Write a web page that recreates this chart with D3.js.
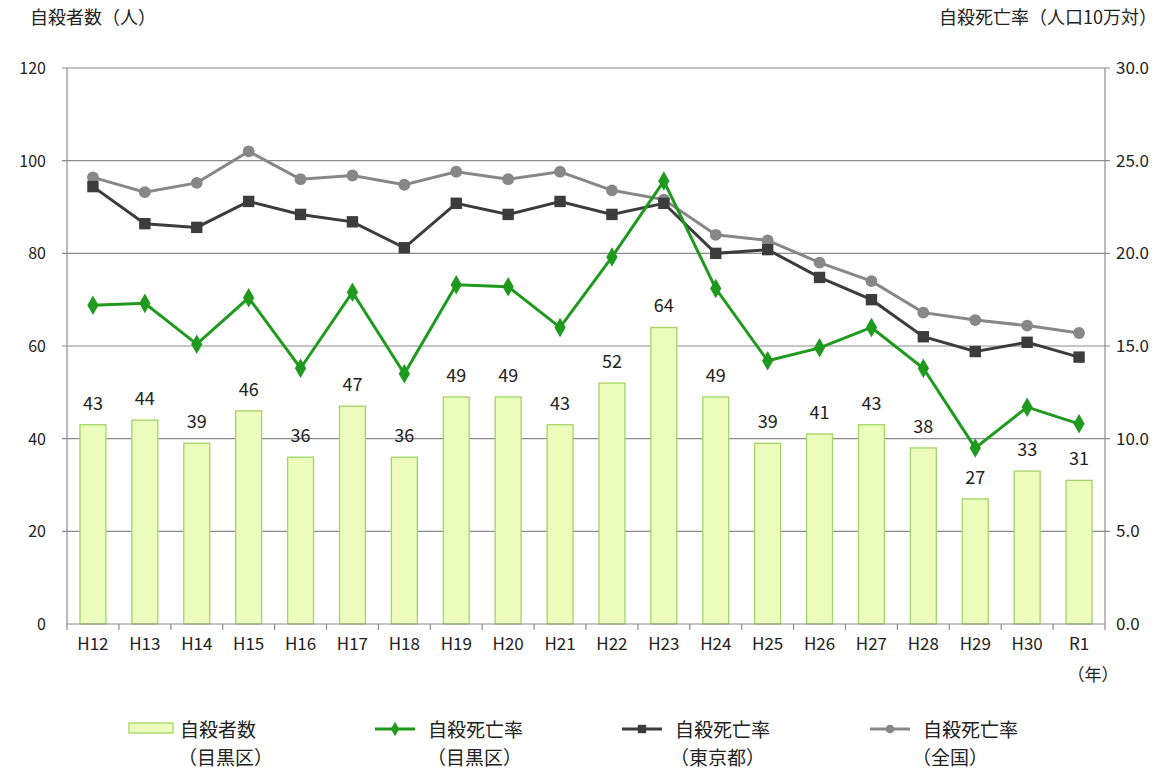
<!DOCTYPE html>
<html>
<head>
<meta charset="utf-8">
<script src="https://cdn.jsdelivr.net/npm/d3@7"></script>
<style>
  body { margin: 0; background: #fff; }
  svg text { font-family: "Noto Sans CJK JP", "Noto Sans", sans-serif; fill: #222; }
</style>
</head>
<body>
<svg id="chart" width="1165" height="772"></svg>
<script>
// Data
const years = ["H12","H13","H14","H15","H16","H17","H18","H19","H20","H21",
               "H22","H23","H24","H25","H26","H27","H28","H29","H30","R1"];
const meguroCount = [43,44,39,46,36,47,36,49,49,43,52,64,49,39,41,43,38,27,33,31];
const meguroRate  = [17.2,17.3,15.1,17.6,13.8,17.9,13.5,18.3,18.2,16.0,
                     19.8,23.9,18.1,14.2,14.9,16.0,13.8,9.5,11.7,10.8];
const tokyoRate   = [23.6,21.6,21.4,22.8,22.1,21.7,20.3,22.7,22.1,22.8,
                     22.1,22.7,20.0,20.2,18.7,17.5,15.5,14.7,15.2,14.4];
const japanRate   = [24.1,23.3,23.8,25.5,24.0,24.2,23.7,24.4,24.0,24.4,
                     23.4,22.9,21.0,20.7,19.5,18.5,16.8,16.4,16.1,15.7];
const leftTicks  = [0,20,40,60,80,100,120];
const rightTicks = [0,5,10,15,20,25,30];

const svg = d3.select("#chart");
const plotLeft = 67, plotRight = 1105, plotTop = 68, plotBottom = 624;

const x = d3.scaleBand().domain(years).range([plotLeft, plotRight]).paddingInner(0.5).paddingOuter(0.25);
const xc = d => x(d) + x.bandwidth() / 2;
const yL = d3.scaleLinear().domain([0, 120]).range([plotBottom, plotTop]);
const yR = d3.scaleLinear().domain([0, 30]).range([plotBottom, plotTop]);

// gridlines + ticks
svg.append("g").selectAll("line").data(leftTicks.slice(1)).join("line")
  .attr("x1", plotLeft - 5).attr("x2", plotRight + 5)
  .attr("y1", d => yL(d)).attr("y2", d => yL(d))
  .attr("stroke", "#8c8c8c").attr("stroke-width", 1.2);

// axis lines
svg.append("line").attr("x1", plotLeft).attr("x2", plotLeft).attr("y1", plotTop).attr("y2", plotBottom)
  .attr("stroke", "#8c8c8c").attr("stroke-width", 1.2);
svg.append("line").attr("x1", plotRight).attr("x2", plotRight).attr("y1", plotTop).attr("y2", plotBottom)
  .attr("stroke", "#8c8c8c").attr("stroke-width", 1.2);

// left tick labels
svg.append("g").selectAll("text").data(leftTicks).join("text")
  .attr("x", 46).attr("y", d => yL(d) + 6)
  .attr("text-anchor", "end").attr("font-size", 16)
  .text(d => d);

// right tick labels
svg.append("g").selectAll("text").data(rightTicks).join("text")
  .attr("x", 1116).attr("y", d => yR(d) + 6)
  .attr("font-size", 17)
  .text(d => d.toFixed(1));

// bars
svg.append("g").selectAll("rect").data(meguroCount).join("rect")
  .attr("x", (d, i) => x(years[i]))
  .attr("y", d => yL(d))
  .attr("width", x.bandwidth())
  .attr("height", d => plotBottom - yL(d))
  .attr("fill", "#ebfcbd").attr("stroke", "#a3d465").attr("stroke-width", 1.3);

// bar value labels
svg.append("g").selectAll("text").data(meguroCount).join("text")
  .attr("x", (d, i) => xc(years[i]))
  .attr("y", d => yL(d) - 15)
  .attr("text-anchor", "middle").attr("font-size", 18)
  .text(d => d);

// x axis line and ticks
svg.append("line").attr("x1", plotLeft).attr("x2", plotRight).attr("y1", plotBottom).attr("y2", plotBottom)
  .attr("stroke", "#8c8c8c").attr("stroke-width", 1.2);
const step = x.step();
svg.append("g").selectAll("line").data(d3.range(years.length + 1)).join("line")
  .attr("x1", i => plotLeft + i * step).attr("x2", i => plotLeft + i * step)
  .attr("y1", plotBottom).attr("y2", plotBottom + 6)
  .attr("stroke", "#8c8c8c").attr("stroke-width", 1.2);

svg.append("g").selectAll("text").data(years).join("text")
  .attr("x", d => xc(d)).attr("y", 650)
  .attr("text-anchor", "middle").attr("font-size", 17)
  .text(d => d);
svg.append("text").attr("x", 1093).attr("y", 681).attr("text-anchor", "middle")
  .attr("font-size", 17).text("（年）");

// lines
const line = vals => d3.line().x((d, i) => xc(years[i])).y(d => yR(d))(vals);

function drawSeries(vals, color, shape, size) {
  svg.append("path").attr("d", line(vals))
    .attr("fill", "none").attr("stroke", color).attr("stroke-width", 3);
  svg.append("g").selectAll("path").data(vals).join("path")
    .attr("transform", (d, i) => `translate(${xc(years[i])},${yR(d)})`)
    .attr("d", d3.symbol().type(shape).size(size))
    .attr("fill", color);
}
drawSeries(japanRate, "#878787", d3.symbolCircle, 110);
drawSeries(tokyoRate, "#3c3c3c", d3.symbolSquare, 130);
drawSeries(meguroRate, "#1f9a1f", d3.symbolDiamond, 110);

// axis titles
svg.append("text").attr("x", 30).attr("y", 24).attr("font-size", 18).text("自殺者数（人）");
svg.append("text").attr("x", 1157).attr("y", 24).attr("text-anchor", "end")
  .attr("font-size", 18).text("自殺死亡率（人口10万対）");

// legend
const legend = svg.append("g").attr("font-size", 19);
legend.append("rect").attr("x", 129).attr("y", 723).attr("width", 44).attr("height", 10)
  .attr("fill", "#ebfcbd").attr("stroke", "#a3d465").attr("stroke-width", 1.3);
legend.append("text").attr("x", 180).attr("y", 737).text("自殺者数");
legend.append("text").attr("x", 178).attr("y", 765).text("（目黒区）");

const legendLines = [
  {x: 375, color: "#1f9a1f", shape: d3.symbolDiamond, size: 60, sub: "（目黒区）", dx: 52},
  {x: 622, color: "#3c3c3c", shape: d3.symbolSquare, size: 70, sub: "（東京都）", dx: 48},
  {x: 870, color: "#878787", shape: d3.symbolCircle, size: 60, sub: "（全国）", dx: 42}
];
legendLines.forEach(l => {
  legend.append("line").attr("x1", l.x).attr("x2", l.x + 40).attr("y1", 729).attr("y2", 729)
    .attr("stroke", l.color).attr("stroke-width", 3);
  legend.append("path").attr("transform", `translate(${l.x + 20},729)`)
    .attr("d", d3.symbol().type(l.shape).size(l.size)).attr("fill", l.color);
  legend.append("text").attr("x", l.x + 53).attr("y", 737).text("自殺死亡率");
  legend.append("text").attr("x", l.x + l.dx).attr("y", 765).text(l.sub);
});
</script>
</body>
</html>
